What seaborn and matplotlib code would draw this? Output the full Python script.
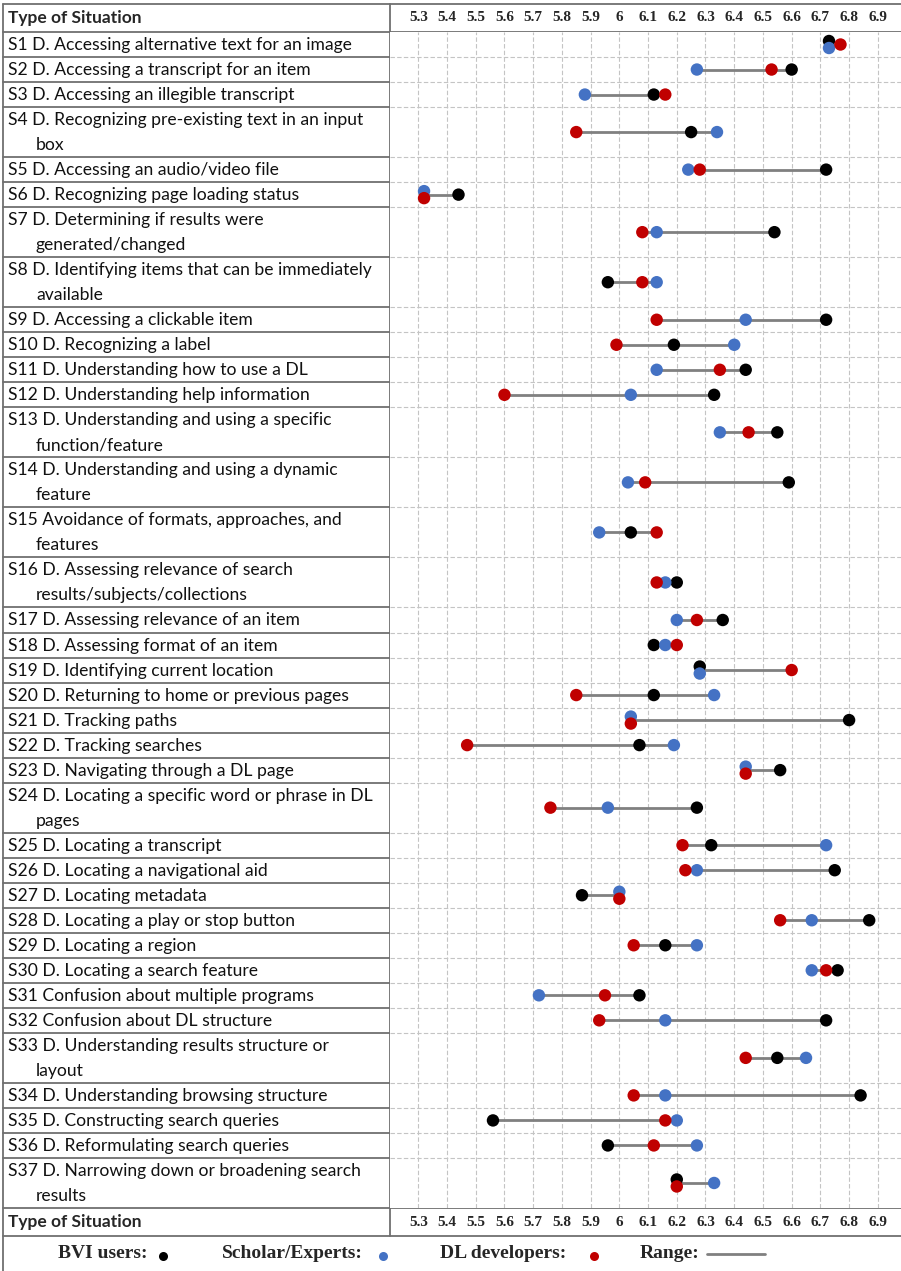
import numpy as np
import pandas as pd
import matplotlib
matplotlib.use("Agg")
import matplotlib.pyplot as plt
import seaborn as sns

# ---------------------------------------------------------------- data
situations = [
    "S1 D. Accessing alternative text for an image",
    "S2 D. Accessing a transcript for an item",
    "S3 D. Accessing an illegible transcript",
    "S4 D. Recognizing pre-existing text in an input\nbox",
    "S5 D. Accessing an audio/video file",
    "S6 D. Recognizing page loading status",
    "S7 D. Determining if results were\ngenerated/changed",
    "S8 D. Identifying items that can be immediately\navailable",
    "S9 D. Accessing a clickable item",
    "S10 D. Recognizing a label",
    "S11 D. Understanding how to use a DL",
    "S12 D. Understanding help information",
    "S13 D. Understanding and using a specific\nfunction/feature",
    "S14 D. Understanding and using a dynamic\nfeature",
    "S15 Avoidance of formats, approaches, and\nfeatures",
    "S16 D. Assessing relevance of search\nresults/subjects/collections",
    "S17 D. Assessing relevance of an item",
    "S18 D. Assessing format of an item",
    "S19 D. Identifying current location",
    "S20 D. Returning to home or previous pages",
    "S21 D. Tracking paths",
    "S22 D. Tracking searches",
    "S23 D. Navigating through a DL page",
    "S24 D. Locating a specific word or phrase in DL\npages",
    "S25 D. Locating a transcript",
    "S26 D. Locating a navigational aid",
    "S27 D. Locating metadata",
    "S28 D. Locating a play or stop button",
    "S29 D. Locating a region",
    "S30 D. Locating a search feature",
    "S31 Confusion about multiple programs",
    "S32 Confusion about DL structure",
    "S33 D. Understanding results structure or\nlayout",
    "S34 D. Understanding browsing structure",
    "S35 D. Constructing search queries",
    "S36 D. Reformulating search queries",
    "S37 D. Narrowing down or broadening search\nresults",
]

bvi_users = [6.73, 6.60, 6.12, 6.25, 6.72, 5.44, 6.54, 5.96, 6.72, 6.19,
             6.44, 6.33, 6.55, 6.59, 6.04, 6.20, 6.36, 6.12, 6.28, 6.12,
             6.80, 6.07, 6.56, 6.27, 6.32, 6.75, 5.87, 6.87, 6.16, 6.76,
             6.07, 6.72, 6.55, 6.84, 5.56, 5.96, 6.20]
scholars = [6.73, 6.27, 5.88, 6.34, 6.24, 5.32, 6.13, 6.13, 6.44, 6.40,
            6.13, 6.04, 6.35, 6.03, 5.93, 6.16, 6.20, 6.16, 6.28, 6.33,
            6.04, 6.19, 6.44, 5.96, 6.72, 6.27, 6.00, 6.67, 6.27, 6.67,
            5.72, 6.16, 6.65, 6.16, 6.20, 6.27, 6.33]
dl_developers = [6.77, 6.53, 6.16, 5.85, 6.28, 5.32, 6.08, 6.08, 6.13, 5.99,
                 6.35, 5.60, 6.45, 6.09, 6.13, 6.13, 6.27, 6.20, 6.60, 5.85,
                 6.04, 5.47, 6.44, 5.76, 6.22, 6.23, 6.00, 6.56, 6.05, 6.72,
                 5.95, 5.93, 6.44, 6.05, 6.16, 6.12, 6.20]

groups = ["BVI users", "Scholar/Experts", "DL developers"]
tick_values = [5.3, 5.4, 5.5, 5.6, 5.7, 5.8, 5.9, 6.0, 6.1, 6.2, 6.3, 6.4,
               6.5, 6.6, 6.7, 6.8, 6.9]
tick_labels = ["5.3", "5.4", "5.5", "5.6", "5.7", "5.8", "5.9", "6", "6.1",
               "6.2", "6.3", "6.4", "6.5", "6.6", "6.7", "6.8", "6.9"]

# ---------------------------------------------------------------- style
sns.set_theme(style="white")
plt.rcParams["font.family"] = ["Lato", "DejaVu Sans"]
SERIF = ["Liberation Serif", "DejaVu Serif"]
colors = {"BVI users": "#000000", "Scholar/Experts": "#4472C4",
          "DL developers": "#C00000"}
BORDER = "#6f6f6f"
GRID = "#c4c4c4"
RANGE = "#808080"

# ---------------------------------------------------------------- layout (pixels)
W, H = 901, 1271
X_LEFT, X_DIV, X_RIGHT = 3, 390, W
Y_TOP, Y_HEAD, Y_BODY, Y_FOOT = 4, 32, 1208, 1236

fig = plt.figure(figsize=(W / 100, H / 100), dpi=100)
fig.patch.set_facecolor("white")

frame = fig.add_axes([0, 0, 1, 1])
frame.set_xlim(0, W)
frame.set_ylim(H, 0)
frame.axis("off")

# row heights follow the number of text lines in each label
n_lines = np.array([s.count("\n") + 1 for s in situations])
row_top = np.concatenate([[0], np.cumsum(n_lines)[:-1]])
row_mid = row_top + n_lines / 2.0
total_units = n_lines.sum()
unit_px = (Y_BODY - Y_HEAD) / total_units

# ---------------------------------------------------------------- long-form table
records = []
for i, name in enumerate(situations):
    vals = {"BVI users": bvi_users[i], "Scholar/Experts": scholars[i],
            "DL developers": dl_developers[i]}
    # split coincident markers slightly apart so both stay visible
    offsets = {g: 0.0 for g in groups}
    for a in range(len(groups)):
        for b in range(a + 1, len(groups)):
            if abs(vals[groups[a]] - vals[groups[b]]) < 1e-9:
                offsets[groups[a]] = -0.14
                offsets[groups[b]] = 0.14
    for g in groups:
        records.append({"situation": name, "group": g, "score": vals[g],
                        "y": row_mid[i] + offsets[g]})
df = pd.DataFrame(records)
df["group"] = pd.Categorical(df["group"], categories=groups, ordered=True)
df = df.sort_values("group", kind="stable")

span = df.groupby("situation", sort=False, observed=True)["score"].agg(["min", "max"])
span = span.reindex(situations)

# ---------------------------------------------------------------- dumbbell panel
ax = fig.add_axes([X_DIV / W, 1 - Y_BODY / H, (X_RIGHT - X_DIV) / W,
                   (Y_BODY - Y_HEAD) / H])
x0 = 5.3 - (418.3 - X_DIV) / 287.2
x1 = 5.3 + (X_RIGHT - 418.3) / 287.2
ax.set_xlim(x0, x1)
ax.set_ylim(total_units, 0)

ax.hlines(row_mid, span["min"].values, span["max"].values, color=RANGE,
          lw=2.0, zorder=2)
sns.scatterplot(data=df, x="score", y="y", hue="group", palette=colors,
                hue_order=groups, s=80, edgecolor="none", linewidth=0,
                legend=False, ax=ax, zorder=3)

ax.set_xticks(tick_values)
ax.set_xticklabels(tick_labels)
ax.set_yticks(np.cumsum(n_lines)[:-1])
ax.set_yticklabels([])
ax.grid(True, which="major", axis="both", color=GRID, lw=0.8,
        ls=(0, (4, 2)))
ax.set_axisbelow(True)
ax.set_xlabel("")
ax.set_ylabel("")
for sp in ax.spines.values():
    sp.set_visible(False)
ax.tick_params(axis="x", top=True, labeltop=True, bottom=True,
               labelbottom=True, length=0, pad=6, labelsize=11)
ax.tick_params(axis="y", length=0)
for t in ax.xaxis.get_major_ticks():
    for lab in (t.label1, t.label2):
        lab.set_fontfamily(SERIF)
        lab.set_fontweight("bold")

# ---------------------------------------------------------------- table frame
lw = 1.3
frame.plot([X_LEFT, X_RIGHT], [Y_TOP, Y_TOP], color=BORDER, lw=lw)
frame.plot([X_LEFT, X_RIGHT], [Y_HEAD, Y_HEAD], color=BORDER, lw=lw)
frame.plot([X_LEFT, X_RIGHT], [Y_BODY, Y_BODY], color=BORDER, lw=lw)
frame.plot([X_LEFT, X_RIGHT], [Y_FOOT, Y_FOOT], color=BORDER, lw=lw)
frame.plot([X_LEFT, X_LEFT], [Y_TOP, H], color=BORDER, lw=lw)
frame.plot([X_DIV, X_DIV], [Y_TOP, Y_FOOT], color=BORDER, lw=lw)
for k in np.cumsum(n_lines)[:-1]:
    yb = Y_HEAD + k * unit_px
    frame.plot([X_LEFT, X_DIV], [yb, yb], color=BORDER, lw=lw)

# header / footer titles
for yc in [(Y_TOP + Y_HEAD) / 2, (Y_BODY + Y_FOOT) / 2]:
    frame.text(8, yc + 0.5, "Type of Situation", fontsize=12.5,
               fontweight="bold", va="center", ha="left")

# situation labels with hanging indent on wrapped lines
for i, name in enumerate(situations):
    top_px = Y_HEAD + row_top[i] * unit_px
    for j, line in enumerate(name.split("\n")):
        frame.text(8 if j == 0 else 36, top_px + (j + 0.5) * unit_px + 0.5,
                   line, fontsize=12.6, va="center", ha="left",
                   color="#111111")

# ---------------------------------------------------------------- legend row
legend_labels = ["BVI users:", "Scholar/Experts:", "DL developers:", "Range:"]
legend_text_x = [58, 222, 440, 640]
legend_key_x = [163, 383, 594]
y_leg = (Y_FOOT + H) / 2 + 0.5
for lab, xt in zip(legend_labels, legend_text_x):
    frame.text(xt, y_leg, lab, fontsize=14, fontfamily=SERIF,
               fontweight="bold", va="center", ha="left")
for g, xk in zip(groups, legend_key_x):
    frame.plot([xk], [y_leg + 1.5], marker="o", ls="none", color=colors[g],
               markersize=6.5, markeredgewidth=0)
frame.plot([707, 765], [y_leg, y_leg], color=RANGE, lw=2)

fig.savefig("out.png", dpi=100, facecolor="white")
